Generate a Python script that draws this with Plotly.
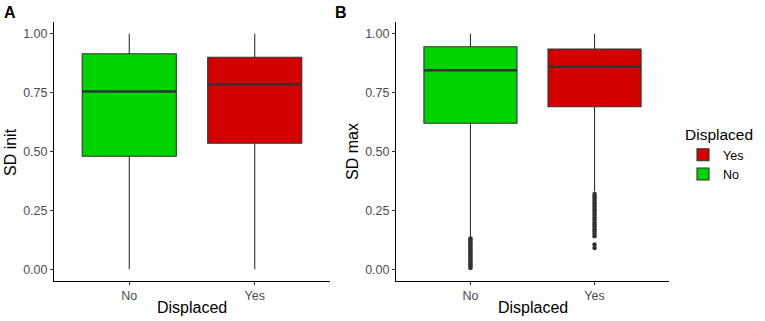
import plotly.graph_objects as go

categories = ["No", "Yes"]
colors = ["#00d400", "#d40000"]

# Panel A: SD init
a_q1 = [0.48, 0.535]
a_med = [0.755, 0.785]
a_q3 = [0.915, 0.90]
a_lo = [0.0, 0.0]
a_hi = [1.0, 1.0]

# Panel B: SD max
b_q1 = [0.62, 0.69]
b_med = [0.845, 0.86]
b_q3 = [0.945, 0.935]
b_lo = [0.135, 0.33]
b_hi = [1.0, 1.0]
b_out_no = [0.005, 0.012, 0.02, 0.027, 0.035, 0.042, 0.05, 0.057, 0.065, 0.072,
            0.08, 0.087, 0.095, 0.102, 0.11, 0.117, 0.125, 0.13]
b_out_yes = [0.32, 0.31, 0.30, 0.29, 0.28, 0.27, 0.26, 0.25, 0.24, 0.23, 0.22,
             0.21, 0.20, 0.19, 0.18, 0.17, 0.16, 0.15, 0.14, 0.105, 0.09]

yticks = [0, 0.25, 0.5, 0.75, 1.0]

W, H = 765, 321
BOXW = 0.75
EDGE = "#333333"
FONT = "Liberation Sans, Arial, sans-serif"

fig = go.Figure()

panels = [
    ("x", "y", a_q1, a_med, a_q3, a_lo, a_hi, None, False),
    ("x2", "y2", b_q1, b_med, b_q3, b_lo, b_hi, [b_out_no, b_out_yes], True),
]
for xa, ya, q1, med, q3, lo, hi, outs, leg in panels:
    for i, cat in enumerate(categories):
        fig.add_trace(go.Box(
            x=[i], q1=[q1[i]], median=[med[i]], q3=[q3[i]],
            lowerfence=[lo[i]], upperfence=[hi[i]],
            width=BOXW, whiskerwidth=0,
            fillcolor=colors[i], line=dict(color=EDGE, width=1.1),
            name=cat, showlegend=leg, legendrank=2 - i,
            xaxis=xa, yaxis=ya, boxpoints=False, hoverinfo="skip",
        ))
        fig.add_trace(go.Scatter(
            x=[i - BOXW / 2, i + BOXW / 2], y=[med[i], med[i]], mode="lines",
            line=dict(color=EDGE, width=2.4), showlegend=False,
            xaxis=xa, yaxis=ya, hoverinfo="skip",
        ))
        if outs is not None:
            fig.add_trace(go.Scatter(
                x=[i] * len(outs[i]), y=outs[i], mode="markers",
                marker=dict(color=EDGE, size=4.5), showlegend=False,
                xaxis=xa, yaxis=ya, hoverinfo="skip",
            ))

ydom = [1 - 281 / H, 1 - 22 / H]
xcommon = dict(range=[-0.6, 1.6], tickvals=[0, 1], ticktext=categories,
               showline=True, linecolor="black", linewidth=1, ticks="outside",
               ticklen=3, tickcolor="#333333", showgrid=False, zeroline=False,
               automargin=False,
               tickfont=dict(family=FONT, size=12.5, color="#4d4d4d"))
ycommon = dict(range=[-0.05, 1.05], tickvals=yticks, tickformat=".2f",
               showline=True, linecolor="black", linewidth=1, ticks="outside",
               ticklen=3, tickcolor="#333333", showgrid=False, zeroline=False,
               automargin=False,
               tickfont=dict(family=FONT, size=12.5, color="#4d4d4d"), domain=ydom)

TF = dict(family=FONT, size=16, color="black")
fig.update_layout(
    width=W, height=H, margin=dict(l=0, r=0, t=0, b=0),
    plot_bgcolor="white", paper_bgcolor="white",
    xaxis=dict(domain=[54 / W, 330 / W], anchor="y", **xcommon),
    yaxis=dict(anchor="x", **ycommon),
    xaxis2=dict(domain=[396 / W, 669 / W], anchor="y2", **xcommon),
    yaxis2=dict(anchor="x2", **ycommon),
    legend=dict(x=683 / W, y=1 - 120 / H, xanchor="left", yanchor="top",
                itemwidth=30, tracegroupgap=0,
                title=dict(text="Displaced", font=dict(family=FONT, size=15.5, color="black")),
                font=dict(family=FONT, size=12.5, color="black"), bgcolor="rgba(0,0,0,0)"),
    annotations=[
        dict(text="<b>A</b>", x=2 / W, y=1 - 2 / H, xref="paper", yref="paper",
             xanchor="left", yanchor="top", showarrow=False,
             font=dict(family=FONT, size=16, color="black")),
        dict(text="<b>B</b>", x=333 / W, y=1 - 2 / H, xref="paper", yref="paper",
             xanchor="left", yanchor="top", showarrow=False,
             font=dict(family=FONT, size=16, color="black")),
        dict(text="Displaced", x=192 / W, y=1 - 307 / H, xref="paper", yref="paper",
             xanchor="center", yanchor="middle", showarrow=False, font=TF),
        dict(text="Displaced", x=533 / W, y=1 - 307 / H, xref="paper", yref="paper",
             xanchor="center", yanchor="middle", showarrow=False, font=TF),
        dict(text="SD init", x=10 / W, y=1 - 152 / H, xref="paper", yref="paper",
             xanchor="center", yanchor="middle", showarrow=False, textangle=-90, font=TF),
        dict(text="SD max", x=352 / W, y=1 - 152 / H, xref="paper", yref="paper",
             xanchor="center", yanchor="middle", showarrow=False, textangle=-90, font=TF),
    ],
)

fig.write_html("out.html", config={"displayModeBar": False},
               post_script="document.body.style.margin='0';document.body.style.overflow='hidden';")
